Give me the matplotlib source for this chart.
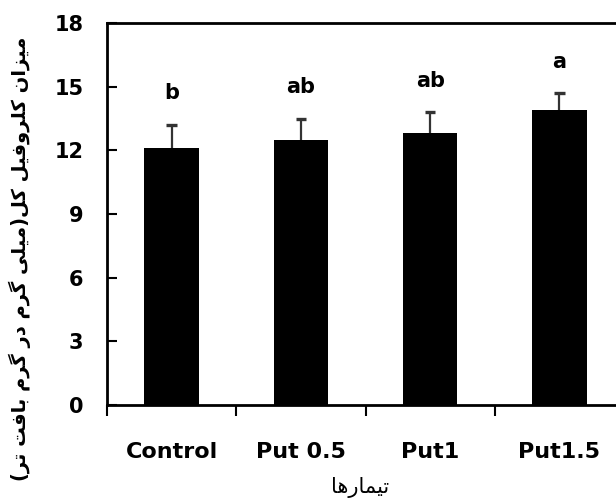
import numpy as np
import matplotlib
matplotlib.use("Agg")
import matplotlib.pyplot as plt

# treatments and mean chlorophyll content with upper standard error
treatments = ["Control", "Put 0.5", "Put1", "Put1.5"]
means = [12.1, 12.5, 12.8, 13.9]
errors = [1.1, 1.0, 1.0, 0.8]
groups = ["b", "ab", "ab", "a"]
y_ticks = [0, 3, 6, 9, 12, 15, 18]

y_title = "میزان کلروفیل کل(میلی گرم در گرم بافت تر)"
x_title = "تیمارها"

# presentation forms: isolated, final, initial, medial
FORMS = {
    "ا": ("\uFE8D", "\uFE8E", None, None),
    "ب": ("\uFE8F", "\uFE90", "\uFE91", "\uFE92"),
    "ت": ("\uFE95", "\uFE96", "\uFE97", "\uFE98"),
    "د": ("\uFEA9", "\uFEAA", None, None),
    "ر": ("\uFEAD", "\uFEAE", None, None),
    "ز": ("\uFEAF", "\uFEB0", None, None),
    "ف": ("\uFED1", "\uFED2", "\uFED3", "\uFED4"),
    "ک": ("\uFB8E", "\uFB8F", "\uFB90", "\uFB91"),
    "گ": ("\uFB92", "\uFB93", "\uFB94", "\uFB95"),
    "ل": ("\uFEDD", "\uFEDE", "\uFEDF", "\uFEE0"),
    "م": ("\uFEE1", "\uFEE2", "\uFEE3", "\uFEE4"),
    "ن": ("\uFEE5", "\uFEE6", "\uFEE7", "\uFEE8"),
    "و": ("\uFEED", "\uFEEE", None, None),
    "ه": ("\uFEE9", "\uFEEA", "\uFEEB", "\uFEEC"),
    "ی": ("\uFBFC", "\uFBFD", "\uFBFE", "\uFBFF"),
}
MIRROR = {"(": ")", ")": "("}


def shape_rtl(text):
    """ Join Persian letters and put them in visual (left to right) order,
    since matplotlib has no text shaping of its own. """
    out = []
    for i, ch in enumerate(text):
        if ch not in FORMS:
            out.append(MIRROR.get(ch, ch))
            continue
        prev = text[i - 1] if i > 0 else ""
        nxt = text[i + 1] if i + 1 < len(text) else ""
        join_prev = prev in FORMS and FORMS[prev][2] is not None
        join_next = nxt in FORMS and FORMS[ch][2] is not None
        iso, fin, ini, med = FORMS[ch]
        if join_prev and join_next:
            out.append(med)
        elif join_prev:
            out.append(fin)
        elif join_next:
            out.append(ini)
        else:
            out.append(iso)
    return "".join(reversed(out))


fig = plt.figure(figsize=(6.16, 5), dpi=100)
ax = fig.add_axes([107 / 616, 95 / 500, 517 / 616, 382 / 500])

x = np.arange(len(treatments))
means_arr = np.array(means)
tops = means_arr + np.array(errors)
ax.bar(x, means, width=0.42, color="black", zorder=2)

# upper error bars only (stem + cap)
ax.vlines(x, means_arr, tops, color="#333333", linewidth=1.6, zorder=3)
ax.hlines(tops, x - 0.04, x + 0.04, color="#333333", linewidth=2.4, zorder=3)

for xi, top, g in zip(x, tops, groups):
    ax.text(xi, top + 1.2, g, ha="center", va="baseline",
            fontsize=15, fontweight="bold", family="DejaVu Sans")

ax.set_xlim(-0.5, len(treatments) - 0.5)
ax.set_ylim(0, 18)
ax.set_yticks(y_ticks)
ax.set_yticklabels([str(t) for t in y_ticks], fontsize=15, fontweight="bold")
ax.tick_params(axis="y", direction="in", length=7, width=1.5, pad=17)

# category boundaries carry the tick marks, labels sit between them
ax.set_xticks(np.arange(-0.5, len(treatments), 1.0))
ax.set_xticklabels([])
ax.set_xticks(x, minor=True)
ax.set_xticklabels(treatments, minor=True, fontsize=16, fontweight="bold")
ax.tick_params(axis="x", which="major", direction="out", length=8, width=1.5)
ax.tick_params(axis="x", which="minor", length=0, pad=27)

for side in ["left", "bottom", "top", "right"]:
    ax.spines[side].set_linewidth(2)

fig.text(20 / 616, 0.482, shape_rtl(y_title), rotation=90, ha="center",
         va="center", fontsize=14, fontweight="bold", family="DejaVu Sans")
fig.text(360 / 616, 0.026, shape_rtl(x_title), ha="center", va="center",
         fontsize=15, family="DejaVu Sans")

fig.savefig("out.png", dpi=100)
